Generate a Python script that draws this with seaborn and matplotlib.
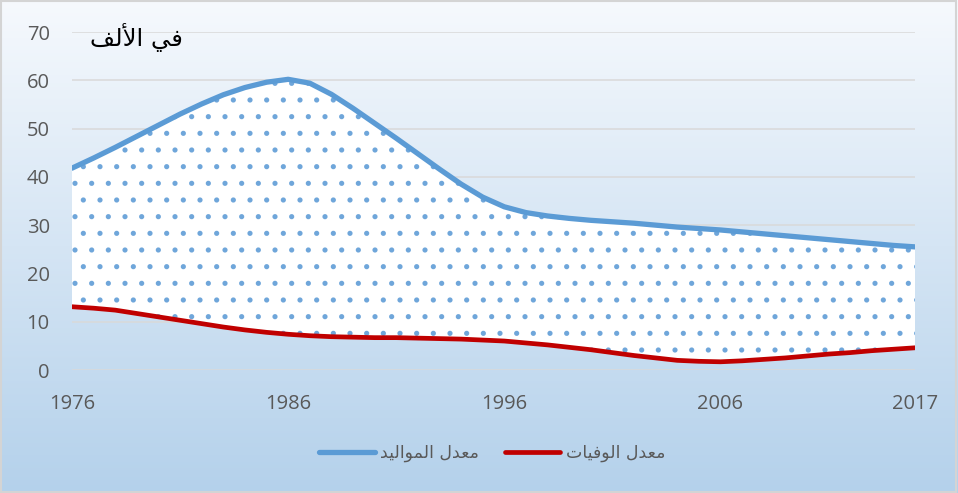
import numpy as np
import pandas as pd
import seaborn as sns
import matplotlib.pyplot as plt
from matplotlib.patches import Rectangle

################################# data ######################################

# 40 points on the category axis, labelled every 10 points (last one = 2017)
pos = list(range(40))
tick_pos = [0, 10, 20, 30, 39]
tick_labels = ['1976', '1986', '1996', '2006', '2017']

births = [41.8, 43.9, 46.1, 48.4, 50.7, 53.0, 55.1, 57.0, 58.5, 59.6,
          60.2, 59.4, 57.1, 54.2, 51.1, 48.0, 44.8, 41.6, 38.5, 35.8,
          33.8, 32.6, 31.9, 31.4, 31.0, 30.7, 30.4, 30.0, 29.6, 29.3,
          29.0, 28.6, 28.2, 27.8, 27.4, 27.0, 26.6, 26.2, 25.8, 25.5]
deaths = [13.1, 12.8, 12.4, 11.7, 11.0, 10.3, 9.6, 8.9, 8.3, 7.8,
          7.4, 7.1, 6.9, 6.8, 6.7, 6.7, 6.6, 6.5, 6.4, 6.2,
          6.0, 5.6, 5.2, 4.7, 4.2, 3.6, 3.0, 2.5, 2.0, 1.8,
          1.7, 1.9, 2.2, 2.5, 2.9, 3.3, 3.6, 4.0, 4.3, 4.6]

title = 'في الألف'
label_births = 'معدل المواليد'
label_deaths = 'معدل الوفيات'

############################### arabic shaping ##############################

# matplotlib does no shaping: pick presentation forms, then reverse (RTL)
FORMS = {
    'ا': ('\uFE8D', '\uFE8E', None, None),
    'أ': ('\uFE83', '\uFE84', None, None),
    'ت': ('\uFE95', '\uFE96', '\uFE97', '\uFE98'),
    'د': ('\uFEA9', '\uFEAA', None, None),
    'ع': ('\uFEC9', '\uFECA', '\uFECB', '\uFECC'),
    'ف': ('\uFED1', '\uFED2', '\uFED3', '\uFED4'),
    'ل': ('\uFEDD', '\uFEDE', '\uFEDF', '\uFEE0'),
    'م': ('\uFEE1', '\uFEE2', '\uFEE3', '\uFEE4'),
    'و': ('\uFEED', '\uFEEE', None, None),
    'ي': ('\uFEF1', '\uFEF2', '\uFEF3', '\uFEF4'),
    'لا': ('\uFEFB', '\uFEFC', None, None),
    'لأ': ('\uFEF7', '\uFEF8', None, None),
}


def shape_ar(text):
    tokens = []
    i = 0
    while i < len(text):
        if text[i] == 'ل' and text[i:i + 2] in FORMS:
            tokens.append(text[i:i + 2])
            i += 2
        else:
            tokens.append(text[i])
            i += 1
    out = []
    for k, t in enumerate(tokens):
        if t not in FORMS:
            out.append(t)
            continue
        prev = tokens[k - 1] if k > 0 else None
        nxt = tokens[k + 1] if k + 1 < len(tokens) else None
        join_prev = prev in FORMS and FORMS[prev][2] is not None
        join_next = nxt in FORMS and FORMS[t][2] is not None
        iso, fin, ini, med = FORMS[t]
        if join_prev and join_next:
            out.append(med)
        elif join_prev:
            out.append(fin)
        elif join_next:
            out.append(ini)
        else:
            out.append(iso)
    return ''.join(reversed(out))


################################# plot ######################################

sns.set_style('white')
plt.rcParams['font.family'] = ['Open Sans', 'DejaVu Sans']
plt.rcParams['hatch.linewidth'] = 1.3

df = pd.DataFrame({'pos': pos, 'births': births, 'deaths': deaths})

fig = plt.figure(figsize=(9.58, 4.93), dpi=100)

# gradient background
bg = fig.add_axes([0, 0, 1, 1], zorder=-1)
top = np.array([246, 249, 253]) / 255
bottom = np.array([180, 209, 235]) / 255
t = np.linspace(0, 1, 256)[:, None]
grad = (top[None, :] * (1 - t) + bottom[None, :] * t)[:, None, :]
bg.imshow(grad, aspect='auto', extent=[0, 1, 0, 1])
bg.set_axis_off()
fig.patches.append(Rectangle((0.001, 0.002), 0.997, 0.995, transform=fig.transFigure,
                             fill=False, edgecolor='#d4d4d4', linewidth=1.5))

ax = fig.add_axes([72 / 958, 1 - 370 / 493, (915 - 72) / 958, (370 - 32) / 493])
ax.set_facecolor('none')

ax.fill_between(df['pos'], df['deaths'], df['births'], facecolor='white',
                edgecolor='#6fa6da', hatch='.', linewidth=0, zorder=1)

sns.lineplot(data=df, x='pos', y='births', ax=ax, color='#5b9bd5', linewidth=3.8,
             solid_capstyle='round', solid_joinstyle='round',
             label=shape_ar(label_births), zorder=3)
sns.lineplot(data=df, x='pos', y='deaths', ax=ax, color='#c00000', linewidth=3.4,
             solid_capstyle='round', solid_joinstyle='round',
             label=shape_ar(label_deaths), zorder=3)

ax.set_xlim(0, 39)
ax.set_ylim(0, 70)
ax.set_yticks(range(0, 71, 10))
ax.set_xticks(tick_pos)
ax.set_xticklabels(tick_labels)
ax.set_xlabel('')
ax.set_ylabel('')
ax.grid(axis='y', color='#d9d9d9', linewidth=1.1, zorder=0)
ax.set_axisbelow(True)
for s in ax.spines.values():
    s.set_visible(False)
ax.tick_params(axis='both', length=0, labelsize=14.5, colors='#595959')
ax.tick_params(axis='y', pad=16)
ax.tick_params(axis='x', pad=17)

fig.text(90 / 958, 1 - 38 / 493, shape_ar(title), fontsize=17.5, color='black',
         family=['DejaVu Sans'], ha='left', va='center')

leg = ax.legend(loc='center', bbox_to_anchor=(492 / 958, 1 - 453 / 493),
                bbox_transform=fig.transFigure, ncol=2, frameon=False,
                handlelength=3.2, handletextpad=0.3, columnspacing=1.5,
                prop={'family': ['DejaVu Sans'], 'size': 12.5})
for txt in leg.get_texts():
    txt.set_color('#595959')

plt.savefig('out.png', dpi=100)
